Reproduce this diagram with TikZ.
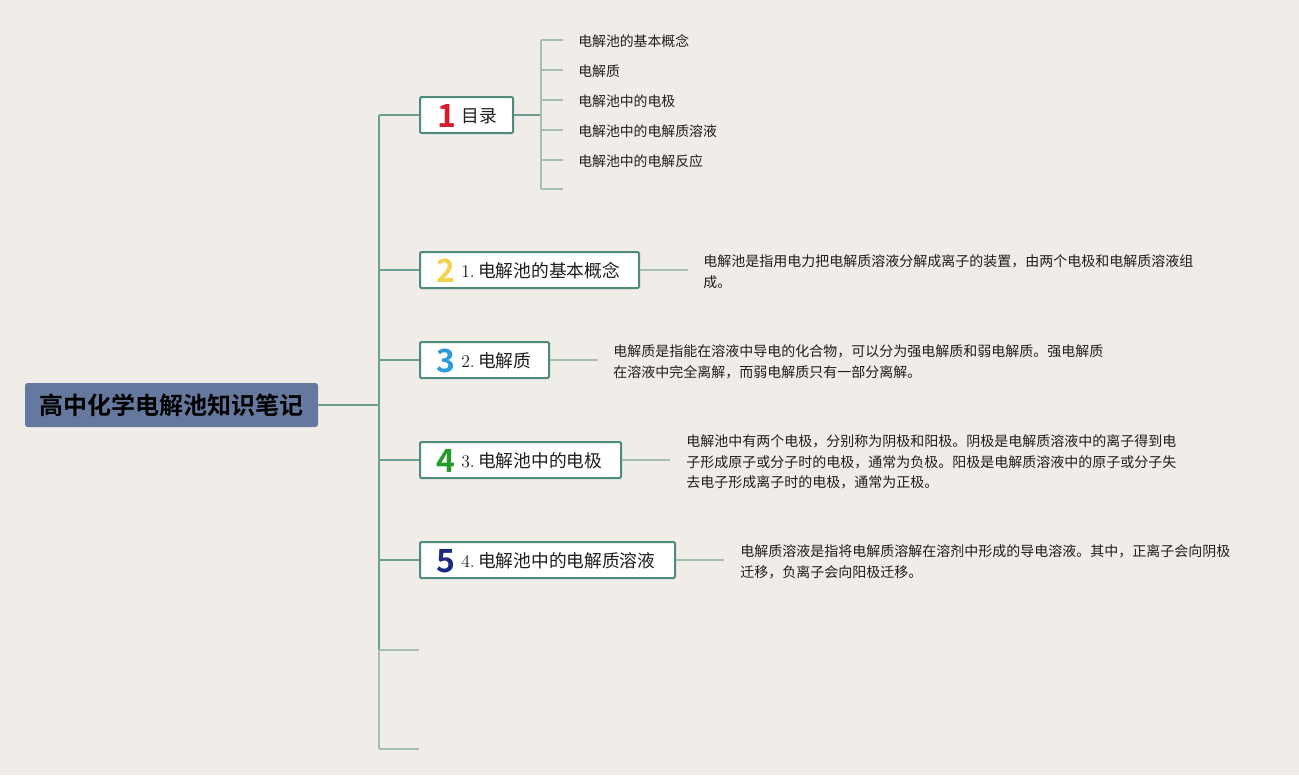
\documentclass[tikz,border=0pt]{standalone}
\usepackage{fontspec}
\newfontfamily\cjk{Noto Sans CJK SC}
\newfontfamily\cjkb{Noto Sans CJK SC Bold}
\definecolor{bg}{HTML}{F0ECE7}
\definecolor{rootfill}{HTML}{65799E}
\definecolor{boxline}{HTML}{4F8A7C}
\definecolor{trunk}{HTML}{6A9F92}
\definecolor{leaf}{HTML}{A5C0B3}
\definecolor{txt}{HTML}{1E1E1E}
\definecolor{dred}{HTML}{D21E2D}
\definecolor{dyellow}{HTML}{F2D24A}
\definecolor{dblue}{HTML}{2A9BDB}
\definecolor{dgreen}{HTML}{269A2A}
\definecolor{dnavy}{HTML}{1D2A82}
\tikzset{
  topicbox/.style={draw=boxline, line width=1.5pt, fill=white, rounded corners=1pt, minimum height=27pt, inner sep=0pt, anchor=west},
  digit/.style={font=\cjkb\fontsize{24}{24}\selectfont, inner sep=0pt},
  topiclabel/.style={font=\fontsize{13.3}{13.3}\selectfont, text=txt, inner sep=0pt, anchor=west},
  childlabel/.style={font=\cjk\fontsize{10.4}{12}\selectfont, text=txt, inner sep=0pt, anchor=west},
  desc/.style={font=\cjk\fontsize{10.5}{15.6}\selectfont, text=txt, inner sep=0pt, anchor=west, align=left},
  trunkline/.style={draw=trunk, line width=1.5pt},
  leafline/.style={draw=leaf, line width=1.5pt},
}
\begin{document}
\begin{tikzpicture}[x=0.75pt,y=-0.75pt]
\useasboundingbox (0,0) rectangle (1299,775);
\fill[bg] (0,0) rectangle (1299,775);

% root
\node[fill=rootfill, rounded corners=2pt, minimum width=219.75pt, minimum height=33pt, inner sep=0pt, font=\cjkb\fontsize{18}{18}\selectfont, text=black] (root) at (171.5,405) {高中化学电解池知识笔记};

% trunk coordinates
\coordinate (tj) at (379,405);
\coordinate (ttop) at (379,115);
\coordinate (tb6) at (379,650);
\coordinate (tb7) at (379,749);
\coordinate (e6) at (419,650);
\coordinate (e7) at (419,749);

% topic boxes
\node[topicbox, minimum width=69.75pt] (t1) at (419,115) {};
\node[topicbox, minimum width=164.25pt] (t2) at (419,270) {};
\node[topicbox, minimum width=96.75pt] (t3) at (419,360) {};
\node[topicbox, minimum width=150.75pt] (t4) at (419,460) {};
\node[topicbox, minimum width=191.25pt] (t5) at (419,560) {};

% lines
\draw[trunkline] (root.east) -- (tj);
\draw[trunkline] (ttop) -- (tb6);
\draw[leafline] (tb6) -- (tb7);
\draw[trunkline] (ttop) -- (t1.west);
\draw[trunkline] (379,270) -- (t2.west);
\draw[trunkline] (379,360) -- (t3.west);
\draw[trunkline] (379,460) -- (t4.west);
\draw[trunkline] (379,560) -- (t5.west);
\draw[leafline] (tb6) -- (e6);
\draw[leafline] (tb7) -- (e7);

% digits and labels
\node[digit, text=dred] (n1) at (447,116) {1};
\node[topiclabel, font=\cjk\fontsize{13.3}{13.3}\selectfont] (l1) at (461,116) {目录};
\node[digit, text=dyellow] (n2) at (446,271) {2};
\node[topiclabel] (l2) at (461,271) {1.\hspace{2.5pt}{\cjk 电解池的基本概念}};
\node[digit, text=dblue] (n3) at (446,361) {3};
\node[topiclabel] (l3) at (461,361) {2.\hspace{2.5pt}{\cjk 电解质}};
\node[digit, text=dgreen] (n4) at (446,461) {4};
\node[topiclabel] (l4) at (461,461) {3.\hspace{2.5pt}{\cjk 电解池中的电极}};
\node[digit, text=dnavy] (n5) at (446,561) {5};
\node[topiclabel] (l5) at (461,561) {4.\hspace{2.5pt}{\cjk 电解池中的电解质溶液}};

% children of box 1
\coordinate (cj) at (541,115);
\coordinate (ctop) at (541,40);
\coordinate (cbot) at (541,189);
\draw[trunkline] (t1.east) -- (cj);
\draw[leafline] (ctop) -- (cbot);
\coordinate (c1) at (563,40);
\coordinate (c2) at (563,70);
\coordinate (c3) at (563,100);
\coordinate (c4) at (563,130);
\coordinate (c5) at (563,160);
\coordinate (c6) at (563,189);
\draw[leafline] (541,40) -- (c1);
\draw[leafline] (541,70) -- (c2);
\draw[leafline] (541,100) -- (c3);
\draw[leafline] (541,130) -- (c4);
\draw[leafline] (541,160) -- (c5);
\draw[leafline] (cbot) -- (c6);
\node[childlabel] (k1) at (578,41) {电解池的基本概念};
\node[childlabel] (k2) at (578,71) {电解质};
\node[childlabel] (k3) at (578,101) {电解池中的电极};
\node[childlabel] (k4) at (578,131) {电解池中的电解质溶液};
\node[childlabel] (k5) at (578,161) {电解池中的电解反应};

% descriptions
\coordinate (d2) at (688,270);
\coordinate (d3) at (598,360);
\coordinate (d4) at (670,460);
\coordinate (d5) at (724,560);
\draw[leafline] (t2.east) -- (d2);
\draw[leafline] (t3.east) -- (d3);
\draw[leafline] (t4.east) -- (d4);
\draw[leafline] (t5.east) -- (d5);
\node[desc] (x2) at (703,272) {电解池是指用电力把电解质溶液分解成离子的装置，由两个电极和电解质溶液组\\成。};
\node[desc] (x3) at (613,362) {电解质是指能在溶液中导电的化合物，可以分为强电解质和弱电解质。强电解质\\在溶液中完全离解，而弱电解质只有一部分离解。};
\node[desc] (x4) at (686,462) {电解池中有两个电极，分别称为阴极和阳极。阴极是电解质溶液中的离子得到电\\子形成原子或分子时的电极，通常为负极。阳极是电解质溶液中的原子或分子失\\去电子形成离子时的电极，通常为正极。};
\node[desc] (x5) at (740,562) {电解质溶液是指将电解质溶解在溶剂中形成的导电溶液。其中，正离子会向阴极\\迁移，负离子会向阳极迁移。};
\end{tikzpicture}
\end{document}
